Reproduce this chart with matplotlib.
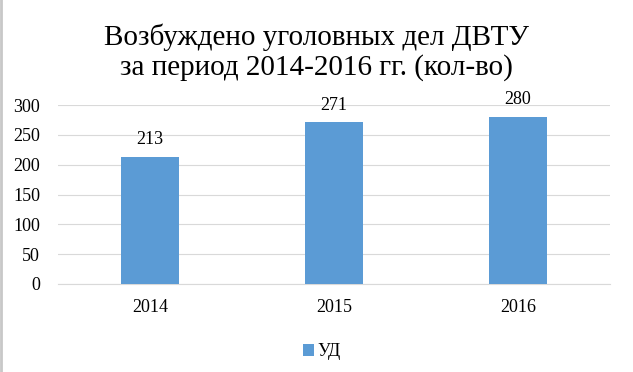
import matplotlib
matplotlib.use('Agg')
from matplotlib import pyplot as plt
from matplotlib.lines import Line2D

years = ['2014', '2015', '2016']
cases = [213, 271, 280]
series_name = 'УД'
yticks = [0, 50, 100, 150, 200, 250, 300]

plt.rcParams['font.family'] = ['Liberation Serif', 'DejaVu Serif']

fig = plt.figure(figsize=(6.33, 3.72), dpi=100)
ax = fig.add_axes([58/633, 1-284/372, 552/633, 179/372])

x = range(len(years))
bars = ax.bar(x, cases, width=0.315, color='#5B9BD5', label=series_name, zorder=3)
for xi, v in zip(x, cases):
    ax.text(xi, v + 21, str(v), ha='center', va='baseline', fontsize=13)

ax.set_xlim(-0.5, len(years) - 0.5)
ax.set_ylim(0, 300)
ax.set_yticks(yticks)
ax.set_xticks(list(x))
ax.set_xticklabels(years)
ax.tick_params(axis='both', length=0, labelsize=13)
ax.tick_params(axis='x', pad=11)
ax.tick_params(axis='y', pad=13)
ax.grid(axis='y', color='#D9D9D9', linewidth=0.8, zorder=0)
for s in ['top', 'right', 'left']:
    ax.spines[s].set_visible(False)
ax.spines['bottom'].set_color('#D9D9D9')

fig.text(0.5, 1-37/372, 'Возбуждено уголовных дел ДВТУ', ha='center', va='center', fontsize=21)
fig.text(0.5, 1-68/372, 'за период 2014-2016 гг. (кол-во)', ha='center', va='center', fontsize=21)

fig.legend(handles=[bars], labels=[series_name], loc='center', bbox_to_anchor=(322/633, 1-352/372),
           frameon=False, fontsize=13, handlelength=0.6, handleheight=0.6, handletextpad=0.2)

# gray line on the left edge, as in the source image
fig.add_artist(Line2D([0.002, 0.002], [0, 1], transform=fig.transFigure, color='#C8C8C8', linewidth=2))

fig.savefig('out.png', dpi=100)
